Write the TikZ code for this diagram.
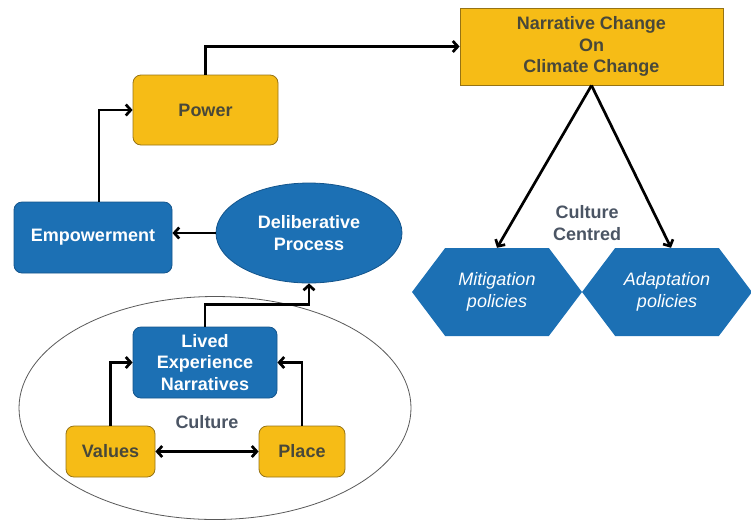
\documentclass[tikz,border=0pt]{standalone}
\usepackage{fontspec}
\setmainfont{Liberation Sans}
\usetikzlibrary{arrows.meta,shapes.geometric,shapes.symbols}

\definecolor{boxyellow}{RGB}{246,188,22}
\definecolor{boxblue}{RGB}{28,112,180}
\definecolor{yellowline}{RGB}{150,115,20}
\definecolor{blueline}{RGB}{20,85,140}
\definecolor{darktext}{RGB}{72,72,58}
\definecolor{slatetext}{RGB}{75,85,100}

\begin{document}
\begin{tikzpicture}[x=1pt, y=-1pt,
  >={Straight Barb[length=5pt,width=11pt]},
  flow/.style={line width=2.7pt, ->},
  ybox/.style={draw=yellowline, line width=0.8pt, fill=boxyellow, text=darktext,
    rounded corners=8pt, inner sep=0pt, align=center, font=\bfseries},
  bbox/.style={draw=blueline, line width=0.8pt, fill=boxblue, text=white,
    rounded corners=8pt, inner sep=0pt, align=center, font=\bfseries},
  hexa/.style={signal, signal to=west and east, signal pointer angle=106,
    fill=boxblue, text=white, inner sep=0pt, align=center, font=\itshape}]

  \useasboundingbox (0,0) rectangle (751,523);
  \fontsize{18}{21.5}\selectfont

  % Ellipse round the culture block
  \node[ellipse, draw=gray!70!black, line width=0.8pt, minimum width=392pt,
    minimum height=223pt] (culture) at (215,408) {};
  \node[text=slatetext, font=\bfseries] (culturelbl) at (207,422) {Culture};

  % Boxes
  \node[ybox, minimum width=145pt, minimum height=70pt] (power) at (205.5,110) {Power};
  \node[bbox, minimum width=158pt, minimum height=71pt] (empower) at (93,237.5) {Empowerment};
  \node[ellipse, draw=blueline, line width=0.8pt, fill=boxblue, text=white,
    font=\bfseries, align=center, inner sep=0pt, minimum width=186pt,
    minimum height=100pt] (delib) at (309,233) {Deliberative\\Process};
  \node[ybox, rounded corners=0pt, minimum width=263pt, minimum height=77pt]
    (narrative) at (591.5,46.5) {Narrative Change\\On\\Climate Change};
  \node[bbox, minimum width=144pt, minimum height=71pt] (lived) at (205,362.5)
    {Lived\\Experience\\Narratives};
  \node[ybox, minimum width=89pt, minimum height=51pt] (values) at (110.5,451.5) {Values};
  \node[ybox, minimum width=86pt, minimum height=51pt] (place) at (302,451.5) {Place};

  % Policies
  \node[hexa, minimum width=170pt, minimum height=88pt] (mitig) at (497,292)
    {Mitigation\\policies};
  \node[hexa, minimum width=170pt, minimum height=88pt] (adapt) at (667,292)
    {Adaptation\\policies};
  \node[text=slatetext, font=\bfseries, align=center] (centred) at (587,223)
    {Culture\\Centred};

  % Arrows
  \draw[flow] ([xshift=6pt]empower.north) |- (power.west);
  \draw[flow] (power.north) |- (narrative.west);
  \draw[flow] (delib.west) -- (delib.west -| empower.east);
  \draw[flow] (narrative.south) -- (mitig.north);
  \draw[flow] (narrative.south) -- ([xshift=4pt]adapt.north);
  \draw[flow] (lived.north) -- ++(0,-22) -| (delib.south);
  \draw[flow] (values.north) |- (lived.west);
  \draw[flow] (place.north) |- (lived.east);
  \draw[flow, <->] (values.east) -- (place.west);

\end{tikzpicture}
\end{document}
